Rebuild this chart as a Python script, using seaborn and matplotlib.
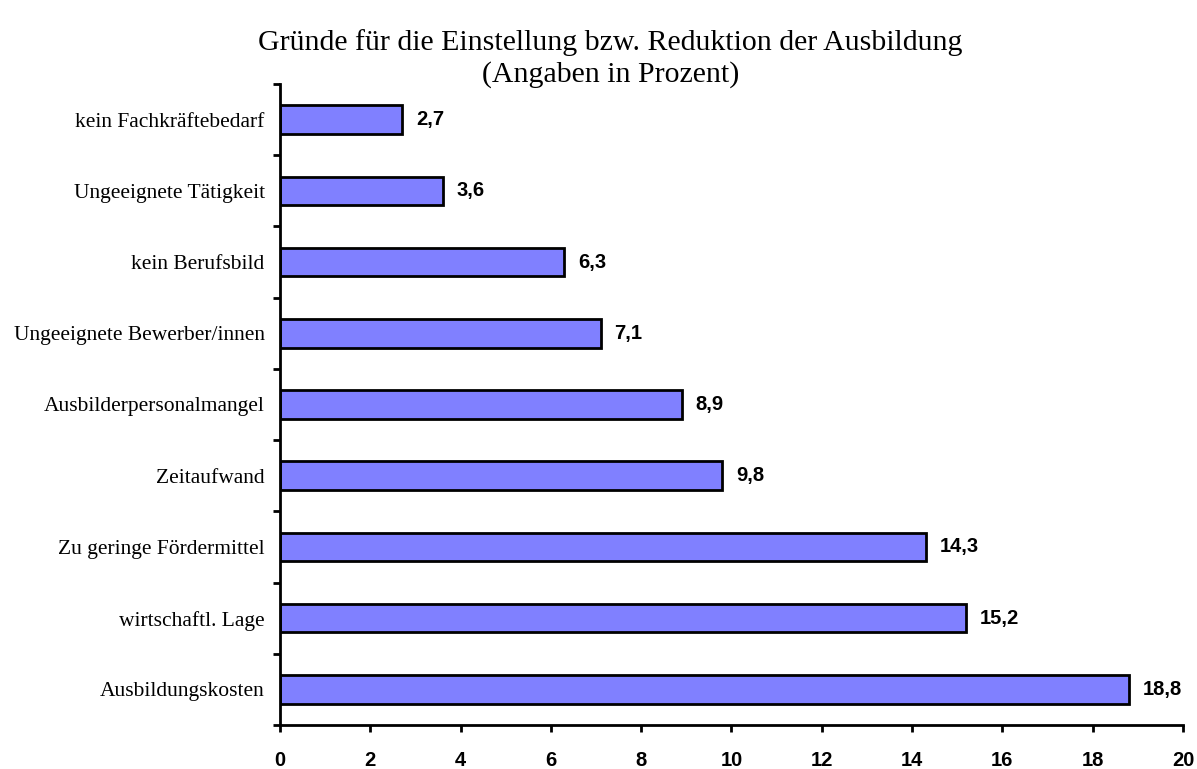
import pandas as pd
import matplotlib.pyplot as plt
import seaborn as sns
from matplotlib.ticker import FixedLocator

# Data (top to bottom)
reasons = ['kein Fachkräftebedarf', 'Ungeeignete Tätigkeit', 'kein Berufsbild',
           'Ungeeignete Bewerber/innen', 'Ausbilderpersonalmangel', 'Zeitaufwand',
           'Zu geringe Fördermittel', 'wirtschaftl. Lage', 'Ausbildungskosten']
percent = [2.7, 3.6, 6.3, 7.1, 8.9, 9.8, 14.3, 15.2, 18.8]

df = pd.DataFrame({'Grund': reasons, 'Prozent': percent})

sns.set_style("white")
plt.rcParams['text.color'] = 'black'
plt.rcParams['xtick.color'] = 'black'
plt.rcParams['ytick.color'] = 'black'

fig = plt.figure(figsize=(11.97, 7.69), dpi=100)
ax = fig.add_axes([0.2339, 0.0572, 0.7544, 0.8336])

sns.barplot(data=df, y='Grund', x='Prozent', orient='h', color='#8080FF',
            saturation=1, width=0.4, edgecolor='black', linewidth=2, ax=ax)

ax.set_xlim(0, 20)
ax.set_ylim(len(reasons) - 0.5, -0.5)
ax.set_xticks(range(0, 21, 2))
ax.set_xticklabels([str(v) for v in range(0, 21, 2)],
                   fontfamily='Liberation Sans', fontweight='bold', fontsize=14.5)
ax.set_yticklabels(reasons, fontfamily='Liberation Serif', fontsize=15.5)
ax.tick_params(axis='y', which='major', length=0, pad=11, labelcolor='black')
ax.yaxis.set_minor_locator(FixedLocator([i - 0.5 for i in range(len(reasons) + 1)]))
ax.tick_params(axis='y', which='minor', length=5, width=2, color='black', left=True)
ax.tick_params(axis='x', which='major', length=5, width=2, color='black',
               bottom=True, pad=14, labelcolor='black')
ax.set_xlabel('')
ax.set_ylabel('')

for side in ['top', 'right']:
    ax.spines[side].set_visible(False)
for side in ['left', 'bottom']:
    ax.spines[side].set_linewidth(2)
    ax.spines[side].set_color('black')

# Value labels next to the bars
for p, v in zip(ax.patches, percent):
    ax.annotate(f'{v:.1f}'.replace('.', ','),
                (p.get_width(), p.get_y() + p.get_height() / 2),
                xytext=(10, 0), textcoords='offset points',
                ha='left', va='center', fontsize=14.5, fontweight='bold',
                fontfamily='Liberation Sans', color='black')

fig.text(0.51, 0.924, 'Gründe für die Einstellung bzw. Reduktion der Ausbildung\n(Angaben in Prozent)',
         ha='center', va='center', fontsize=21.5, fontfamily='Liberation Serif',
         linespacing=1.25, color='black')

plt.savefig('out.png', dpi=100)
